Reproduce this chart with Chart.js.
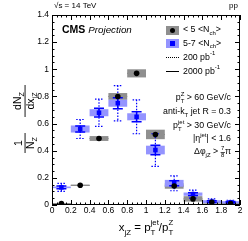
<!DOCTYPE html>
<html>
<head>
<meta charset="utf-8">
<script src="https://cdn.jsdelivr.net/npm/chart.js@4/dist/chart.umd.min.js"></script>
<style>
  html, body { margin: 0; padding: 0; background: #fff; }
  #wrap { width: 248px; height: 241px; }
</style>
</head>
<body>
<div id="wrap"><canvas id="c" width="248" height="241"></canvas></div>
<script>
/* ---------- data ---------- */
const xCenters  = [0.1, 0.3, 0.5, 0.7, 0.9, 1.1, 1.3, 1.5, 1.7, 1.9];
const xHalfBin  = 0.1;

// < 5 <N_ch>  (black circles, grey boxes)
const lowN      = [0.01, 0.145, 0.49, 0.80, 0.97, 0.52, 0.14, 0.045, 0.02, 0.01];
const lowSys    = [0.004, 0.004, 0.018, 0.025, 0.03, 0.035, 0.02, 0.02, 0.01, 0.008];

// 5-7 <N_ch>  (blue squares, blue boxes)
const midN      = [0.13, 0.56, 0.68, 0.75, 0.65, 0.405, 0.16, 0.08, 0.025, 0.02];
const midSys    = [0.006, 0.026, 0.026, 0.026, 0.026, 0.032, 0.025, 0.012, 0.01, 0.008];
const midStat200  = [0.03, 0.07, 0.10, 0.13, 0.125, 0.12, 0.055, 0.03, 0.02, 0.015];
const midStat2000 = [0.01, 0.022, 0.032, 0.04, 0.037, 0.035, 0.018, 0.01, 0.006, 0.005];

const xTicks = [0, 0.2, 0.4, 0.6, 0.8, 1, 1.2, 1.4, 1.6, 1.8, 2];
const yTicks = [0, 0.2, 0.4, 0.6, 0.8, 1, 1.2, 1.4];

const FONT = '"Liberation Sans", Arial, Helvetica, sans-serif';
const GREY_BOX = '#8f8f8f';
const BLUE_BOX = '#9494ff';
const BLUE = '#0000ff';

/* ---------- little rich-text helper (sub / sup / stacked) ---------- */
function segWidth(ctx, s, size) {
  if (typeof s === 'string') { ctx.font = size + 'px ' + FONT; return ctx.measureText(s).width; }
  const small = size * 0.68;
  ctx.font = small + 'px ' + FONT;
  if (s.fr) return Math.max(ctx.measureText(s.fr[0]).width, ctx.measureText(s.fr[1]).width) + 1;
  const a = s.b ? ctx.measureText(s.b).width : 0;
  const b = s.p ? ctx.measureText(s.p).width : 0;
  return Math.max(a, b);
}
function rich(ctx, segs, x, y, size, align) {
  let w = 0;
  segs.forEach(s => w += segWidth(ctx, s, size));
  let cx = align === 'right' ? x - w : align === 'center' ? x - w / 2 : x;
  ctx.fillStyle = '#000';
  ctx.textBaseline = 'middle';
  ctx.textAlign = 'left';
  segs.forEach(s => {
    const sw = segWidth(ctx, s, size);
    if (typeof s === 'string') {
      ctx.font = size + 'px ' + FONT;
      ctx.fillText(s, cx, y);
    } else {
      const small = size * 0.68;
      ctx.font = small + 'px ' + FONT;
      if (s.fr) {
        ctx.textAlign = 'center';
        ctx.fillText(s.fr[0], cx + sw / 2, y - size * 0.38);
        ctx.fillText(s.fr[1], cx + sw / 2, y + size * 0.42);
        ctx.fillRect(cx, y, sw, 0.7);
        ctx.textAlign = 'left';
      } else {
        if (s.b) ctx.fillText(s.b, cx, y + size * 0.38);
        if (s.p) ctx.fillText(s.p, cx, y - size * 0.42);
      }
    }
    cx += sw;
  });
}

/* ---------- plugin: boxes, error bars, frame, ticks, labels ---------- */
const decor = {
  id: 'decor',
  beforeDatasetsDraw(chart) {
    const ctx = chart.ctx, xs = chart.scales.x, ys = chart.scales.y;
    const px = v => xs.getPixelForValue(v), py = v => ys.getPixelForValue(v);
    ctx.save();

    // horizontal bin-width bars for the < 5 sample
    ctx.strokeStyle = '#555'; ctx.lineWidth = 1;
    xCenters.forEach((x, i) => {
      ctx.beginPath();
      ctx.moveTo(px(x - xHalfBin), py(lowN[i]));
      ctx.lineTo(px(x + xHalfBin), py(lowN[i]));
      ctx.stroke();
    });

    // grey systematic boxes
    xCenters.forEach((x, i) => {
      const x0 = px(x - xHalfBin), x1 = px(x + xHalfBin);
      const y0 = py(lowN[i] + lowSys[i]), y1 = py(lowN[i] - lowSys[i]);
      ctx.fillStyle = GREY_BOX;
      ctx.fillRect(x0, y0, x1 - x0, Math.max(1, y1 - y0));
    });

    // blue systematic boxes
    xCenters.forEach((x, i) => {
      const x0 = px(x - xHalfBin), x1 = px(x + xHalfBin);
      const y0 = py(midN[i] + midSys[i]), y1 = py(midN[i] - midSys[i]);
      ctx.fillStyle = BLUE_BOX;
      ctx.fillRect(x0, y0, x1 - x0, Math.max(1, y1 - y0));
    });

    // blue stat errors: 200 pb-1 dotted, 2000 pb-1 solid
    ctx.strokeStyle = BLUE;
    xCenters.forEach((x, i) => {
      const cx = px(x);
      const t = py(midN[i] + midStat200[i]), b = py(Math.max(0, midN[i] - midStat200[i]));
      ctx.lineWidth = 1.2;
      ctx.setLineDash([1.5, 1.5]);
      ctx.beginPath();
      ctx.moveTo(cx, t); ctx.lineTo(cx, b);
      ctx.moveTo(cx - 4, t); ctx.lineTo(cx + 4, t);
      ctx.moveTo(cx - 4, b); ctx.lineTo(cx + 4, b);
      ctx.stroke();
      ctx.setLineDash([]);
      const t2 = py(midN[i] + midStat2000[i]), b2 = py(Math.max(0, midN[i] - midStat2000[i]));
      ctx.lineWidth = 1.5;
      ctx.beginPath();
      ctx.moveTo(cx, t2); ctx.lineTo(cx, b2);
      ctx.moveTo(cx - 5, t2); ctx.lineTo(cx + 5, t2);
      ctx.moveTo(cx - 5, b2); ctx.lineTo(cx + 5, b2);
      ctx.stroke();
    });
    ctx.restore();
  },
  afterDraw(chart) {
    const ctx = chart.ctx, a = chart.chartArea;
    const xs = chart.scales.x, ys = chart.scales.y;
    ctx.save();

    // frame
    ctx.strokeStyle = '#000'; ctx.lineWidth = 1;
    ctx.strokeRect(a.left + 0.5, a.top + 0.5, a.right - a.left - 1, a.bottom - a.top - 1);

    // inward ticks, major + minor, on all four sides
    ctx.beginPath();
    for (let v = 0; v <= 2.0001; v += 0.05) {
      const major = Math.abs(v / 0.2 - Math.round(v / 0.2)) < 1e-6;
      const L = major ? 5 : 2.5;
      const p = Math.round(xs.getPixelForValue(v)) + 0.5;
      ctx.moveTo(p, a.bottom); ctx.lineTo(p, a.bottom - L);
      ctx.moveTo(p, a.top); ctx.lineTo(p, a.top + L);
    }
    for (let v = 0; v <= 1.4001; v += 0.05) {
      const major = Math.abs(v / 0.2 - Math.round(v / 0.2)) < 1e-6;
      const L = major ? 5 : 2.5;
      const p = Math.round(ys.getPixelForValue(v)) + 0.5;
      ctx.moveTo(a.left, p); ctx.lineTo(a.left + L, p);
      ctx.moveTo(a.right, p); ctx.lineTo(a.right - L, p);
    }
    ctx.stroke();

    // header
    ctx.fillStyle = '#000';
    ctx.textBaseline = 'middle';
    ctx.font = '8px ' + FONT;
    ctx.textAlign = 'left';
    ctx.fillText('\u221As = 14 TeV', 54, 6);
    ctx.textAlign = 'right';
    ctx.fillText('pp', 238, 6);

    // CMS Projection
    ctx.textAlign = 'left';
    ctx.font = 'bold 10.5px ' + FONT;
    ctx.fillText('CMS', 62, 30);
    const w = ctx.measureText('CMS ').width;
    ctx.font = 'italic 9.8px ' + FONT;
    ctx.fillText('Projection', 62 + w, 30);

    // legend
    ctx.fillStyle = GREY_BOX; ctx.fillRect(166, 26, 13, 9);
    ctx.fillStyle = '#000'; ctx.beginPath(); ctx.arc(172.5, 30.5, 2.5, 0, Math.PI * 2); ctx.fill();
    ctx.fillStyle = BLUE_BOX; ctx.fillRect(166, 39, 13, 9);
    ctx.fillStyle = BLUE; ctx.fillRect(170, 41, 5, 5);
    ctx.strokeStyle = '#000';
    ctx.lineWidth = 1; ctx.setLineDash([1, 1]);
    ctx.beginPath(); ctx.moveTo(166, 57.5); ctx.lineTo(179, 57.5); ctx.stroke();
    ctx.setLineDash([]);
    ctx.beginPath(); ctx.moveTo(166, 71.5); ctx.lineTo(179, 71.5); ctx.stroke();
    rich(ctx, ['< 5 <N', {b: 'ch'}, '>'], 183, 30, 8.8, 'left');
    rich(ctx, ['5-7 <N', {b: 'ch'}, '>'], 183, 43.5, 8.8, 'left');
    rich(ctx, ['200 pb', {p: '-1'}], 183, 57.5, 8.8, 'left');
    rich(ctx, ['2000 pb', {p: '-1'}], 183, 71.5, 8.8, 'left');

    // selection text
    rich(ctx, ['p', {b: 'T', p: 'Z'}, ' > 60 GeV/c'], 231, 98, 8.8, 'right');
    rich(ctx, ['anti-k', {b: 'T'}, ' jet R = 0.3'], 231, 112, 8.8, 'right');
    rich(ctx, ['p', {b: 'T', p: 'jet'}, ' > 30 GeV/c'], 231, 126, 8.8, 'right');
    rich(ctx, ['|\u03B7', {p: 'jet'}, '| < 1.6'], 231, 139, 8.8, 'right');
    rich(ctx, ['\u0394\u03C6', {b: 'jZ'}, ' > ', {fr: ['7', '8']}, '\u03C0'], 231, 152, 8.8, 'right');

    // x title
    rich(ctx, ['x', {b: 'jZ'}, ' = p', {b: 'T', p: 'jet'}, '/p', {b: 'T', p: 'Z'}], 146, 228, 11.5, 'center');

    // y title, rotated: numerators to the left of the fraction bars
    ctx.save();
    ctx.translate(25, 121);
    ctx.rotate(-Math.PI / 2);
    ctx.fillStyle = '#000';
    // 1 / N_Z
    ctx.fillRect(-32, -0.4, 20, 0.9);
    rich(ctx, ['1'], -22, -6, 10.5, 'center');
    rich(ctx, ['N', {b: 'Z'}], -22, 6.5, 10.5, 'center');
    // dN_Z / dx_jZ
    ctx.fillRect(4, -0.4, 32, 0.9);
    rich(ctx, ['dN', {b: 'Z'}], 20, -7, 10.5, 'center');
    rich(ctx, ['dx', {b: 'jZ'}], 20, 6, 10.5, 'center');
    ctx.restore();

    ctx.restore();
  }
};

/* ---------- chart ---------- */
new Chart(document.getElementById('c'), {
  type: 'scatter',
  data: {
    datasets: [
      {
        label: '5-7 <Nch>',
        data: xCenters.map((x, i) => ({x: x, y: midN[i]})),
        pointStyle: 'rect',
        pointRadius: 3.2,
        backgroundColor: BLUE,
        borderWidth: 0,
        order: 2
      },
      {
        label: '< 5 <Nch>',
        data: xCenters.map((x, i) => ({x: x, y: lowN[i]})),
        pointStyle: 'circle',
        pointRadius: 2.8,
        backgroundColor: '#000',
        borderWidth: 0,
        order: 1
      }
    ]
  },
  options: {
    responsive: false,
    animation: false,
    events: [],
    layout: { padding: { left: 0, top: 15, right: 8, bottom: 0 } },
    plugins: { legend: { display: false }, tooltip: { enabled: false } },
    scales: {
      x: {
        type: 'linear', min: 0, max: 2,
        afterBuildTicks: s => { s.ticks = xTicks.map(v => ({value: v})); },
        afterFit: s => { s.height = 36; },
        grid: { display: false, drawTicks: false },
        border: { display: false },
        ticks: {
          padding: 1, color: '#000', maxRotation: 0, autoSkip: false,
          font: { family: FONT, size: 8.5 },
          callback: v => String(+v.toFixed(1))
        }
      },
      y: {
        type: 'linear', min: 0, max: 1.4,
        afterBuildTicks: s => { s.ticks = yTicks.map(v => ({value: v})); },
        afterFit: s => { s.width = 52; },
        grid: { display: false, drawTicks: false },
        border: { display: false },
        ticks: {
          padding: 3, color: '#000', autoSkip: false,
          font: { family: FONT, size: 8.5 },
          callback: v => String(+v.toFixed(1))
        }
      }
    }
  },
  plugins: [decor]
});
</script>
</body>
</html>
